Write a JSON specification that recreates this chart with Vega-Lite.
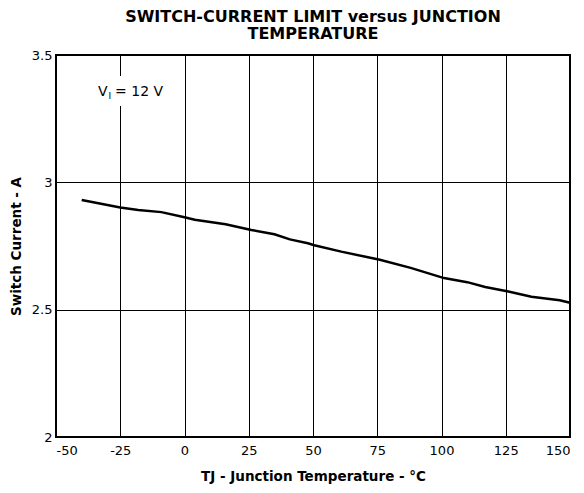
{
  "$schema": "https://vega.github.io/schema/vega-lite/v6.json",
  "width": 514,
  "height": 382,
  "autosize": {"type": "none"},
  "padding": {"left": 56, "top": 55, "right": 14, "bottom": 56},
  "background": "white",
  "title": {
    "text": ["SWITCH-CURRENT LIMIT versus JUNCTION", "TEMPERATURE"],
    "font": "DejaVu Sans",
    "fontSize": 16,
    "fontWeight": "bold",
    "color": "black",
    "lineHeight": 17.5,
    "anchor": "middle",
    "baseline": "bottom",
    "offset": -9
  },
  "config": {
    "view": {"stroke": "black", "strokeWidth": 2},
    "axis": {
      "labelFont": "DejaVu Sans",
      "labelFontSize": 13,
      "labelColor": "black",
      "titleFont": "DejaVu Sans",
      "titleFontSize": 13.5,
      "titleFontWeight": "bold",
      "titleColor": "black",
      "grid": true,
      "gridColor": "black",
      "gridWidth": 1,
      "gridOpacity": 1,
      "domain": false,
      "ticks": false
    }
  },
  "layer": [
    {
      "data": {"values": [{"x1": -36, "x2": -6, "y1": 3.300, "y2": 3.418}]},
      "mark": {"type": "rect", "color": "white"},
      "encoding": {
        "x": {"field": "x1", "type": "quantitative",
          "scale": {"domain": [-50, 150], "nice": false, "zero": false},
          "axis": {"values": [-50, -25, 0, 25, 50, 75, 100, 125, 150], "labelExpr": "'' + datum.value", "labelPadding": 7, "title": "TJ - Junction Temperature - °C", "titlePadding": 12}},
        "x2": {"field": "x2"},
        "y": {"field": "y1", "type": "quantitative",
          "scale": {"domain": [2, 3.5], "nice": false, "zero": false},
          "axis": {"values": [2, 2.5, 3, 3.5], "labelExpr": "'' + datum.value", "labelPadding": 4, "title": "Switch Current - A", "titlePadding": 8}},
        "y2": {"field": "y2"}
      }
    },
    {
      "data": {"values": [
        {"temp": -40, "current": 2.931},
        {"temp": -25, "current": 2.901},
        {"temp": -18, "current": 2.891},
        {"temp": -9, "current": 2.883},
        {"temp": 0, "current": 2.863},
        {"temp": 4, "current": 2.853},
        {"temp": 16, "current": 2.835},
        {"temp": 26, "current": 2.813},
        {"temp": 35, "current": 2.796},
        {"temp": 41, "current": 2.776},
        {"temp": 48, "current": 2.761},
        {"temp": 50.5, "current": 2.753},
        {"temp": 61, "current": 2.728},
        {"temp": 76, "current": 2.696},
        {"temp": 88, "current": 2.664},
        {"temp": 101, "current": 2.624},
        {"temp": 110, "current": 2.608},
        {"temp": 117, "current": 2.589},
        {"temp": 126, "current": 2.571},
        {"temp": 135, "current": 2.551},
        {"temp": 146, "current": 2.537},
        {"temp": 150, "current": 2.527}
      ]},
      "mark": {"type": "line", "color": "black", "strokeWidth": 2.5},
      "encoding": {
        "x": {"field": "temp", "type": "quantitative"},
        "y": {"field": "current", "type": "quantitative"}
      }
    },
    {
      "data": {"values": [{"x": -33.7, "y": 3.339, "label": "V"}]},
      "mark": {"type": "text", "align": "left", "baseline": "alphabetic", "font": "DejaVu Sans", "fontSize": 14, "color": "black"},
      "encoding": {
        "x": {"field": "x", "type": "quantitative"},
        "y": {"field": "y", "type": "quantitative"},
        "text": {"field": "label"}
      }
    },
    {
      "data": {"values": [{"x": -29.6, "y": 3.339, "label": "I"}]},
      "mark": {"type": "text", "align": "left", "baseline": "alphabetic", "dy": 3, "font": "DejaVu Sans", "fontSize": 9, "color": "black"},
      "encoding": {
        "x": {"field": "x", "type": "quantitative"},
        "y": {"field": "y", "type": "quantitative"},
        "text": {"field": "label"}
      }
    },
    {
      "data": {"values": [{"x": -27.0, "y": 3.339, "label": "= 12 V"}]},
      "mark": {"type": "text", "align": "left", "baseline": "alphabetic", "font": "DejaVu Sans", "fontSize": 14, "color": "black"},
      "encoding": {
        "x": {"field": "x", "type": "quantitative"},
        "y": {"field": "y", "type": "quantitative"},
        "text": {"field": "label"}
      }
    }
  ]
}
